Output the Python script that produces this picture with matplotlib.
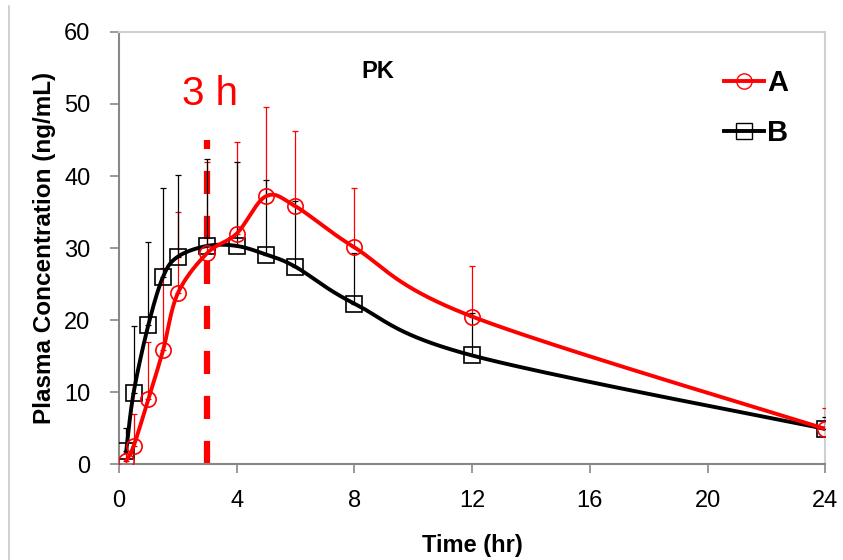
import numpy as np
import matplotlib.pyplot as plt
from matplotlib.lines import Line2D

# sampling times (hr)
time = [0.25, 0.5, 1, 1.5, 2, 3, 4, 5, 6, 8, 12, 24]

# formulation A (red)
conc_a = [0.5, 2.5, 9.0, 15.8, 23.7, 29.3, 32.0, 37.2, 35.8, 30.1, 20.5, 4.9]
sd_a = [1.0, 4.5, 8.0, 11.5, 11.3, 12.6, 12.7, 12.4, 10.4, 8.2, 7.0, 2.9]

# formulation B (black)
conc_b = [1.8, 9.9, 19.3, 26.0, 28.8, 30.3, 30.3, 29.1, 27.4, 22.3, 15.1, 4.9]
sd_b = [3.2, 9.3, 11.5, 12.4, 11.4, 12.0, 11.7, 10.3, 9.1, 7.0, 5.9, 1.6]

XMAX, YMAX = 24, 60


def smooth(x, y, n=40):
    # Catmull-Rom through the points, computed on the normalised axes so it looks like Excel's smoothing
    px = np.asarray(x, float) / XMAX * 1.6
    py = np.asarray(y, float) / YMAX
    P = np.column_stack([px, py])
    P = np.vstack([P[0], P, P[-1]])
    out = []
    for i in range(1, len(P) - 2):
        p0, p1, p2, p3 = P[i - 1], P[i], P[i + 1], P[i + 2]
        t = np.linspace(0, 1, n)[:, None]
        c1 = p1 + (p2 - p0) / 6
        c2 = p2 - (p3 - p1) / 6
        seg = ((1 - t) ** 3) * p1 + 3 * ((1 - t) ** 2) * t * c1 + 3 * (1 - t) * t ** 2 * c2 + t ** 3 * p2
        out.append(seg)
    out = np.vstack(out)
    return out[:, 0] / 1.6 * XMAX, out[:, 1] * YMAX


plt.rcParams['font.family'] = ['Liberation Sans', 'DejaVu Sans']

fig = plt.figure(figsize=(8.43, 5.6), dpi=100)
ax = fig.add_axes([0.141, 0.171, 0.838, 0.772])

# vertical 3 h marker
ax.plot([3, 3], [0, 45], color='#ff0000', lw=4.5, ls=(0, (3.7, 3.5)), zorder=2)
ax.text(3.1, 51.4, '3 h', color='#ff0000', fontsize=29, ha='center', va='center')

# error bars (upper only)
ax.errorbar(time, conc_a, yerr=[np.zeros(len(sd_a)), sd_a], fmt='none', ecolor='#ff0000',
            elinewidth=0.9, capsize=2.5, capthick=0.9, zorder=3)
ax.errorbar(time, conc_b, yerr=[np.zeros(len(sd_b)), sd_b], fmt='none', ecolor='black',
            elinewidth=0.9, capsize=2.5, capthick=0.9, zorder=3)

sx, sy = smooth(time, conc_b)
ax.plot(sx, sy, color='black', lw=2.8, zorder=4)
ax.plot(time, conc_b, ls='none', marker='s', ms=11, mfc='none', mec='black', mew=1.2, zorder=5)

sx, sy = smooth(time, conc_a)
ax.plot(sx, sy, color='#ff0000', lw=2.8, zorder=6)
ax.plot(time, conc_a, ls='none', marker='o', ms=11, mfc='none', mec='#ff0000', mew=1.2, zorder=7)

ax.set_xlim(0, XMAX)
ax.set_ylim(0, YMAX)
ax.set_xticks([0, 4, 8, 12, 16, 20, 24])
ax.set_yticks(range(0, 61, 10))
ax.tick_params(axis='both', labelsize=17, color='#888888', length=6.5, width=1.2, direction='out')
ax.tick_params(axis='x', pad=12)
ax.tick_params(axis='y', pad=14)

for side in ['left', 'bottom']:
    ax.spines[side].set_color('#888888')
    ax.spines[side].set_linewidth(1.5)
for side in ['top', 'right']:
    ax.spines[side].set_color('#d0d0d0')
    ax.spines[side].set_linewidth(1.5)

ax.set_xlabel('Time (hr)', fontsize=17, fontweight='bold', labelpad=16)
ax.set_ylabel('Plasma Concentration (ng/mL)', fontsize=17.5, fontweight='bold', labelpad=6)
ax.text(8.8, 54.5, 'PK', fontsize=17, fontweight='bold', ha='center', va='center')

handles = [Line2D([], [], color='#ff0000', lw=2.8, marker='o', ms=11, mfc='none', mec='#ff0000'),
           Line2D([], [], color='black', lw=2.8, marker='s', ms=11, mfc='none', mec='black')]
leg = ax.legend(handles, ['A', 'B'], loc='upper right', bbox_to_anchor=(0.985, 0.975), frameon=False,
                handlelength=1.4, handletextpad=0.1, labelspacing=0.75,
                prop={'size': 21, 'weight': 'bold'})

# thin frame line on the far left of the picture
fig.add_artist(Line2D([0.011, 0.011], [0.0, 0.99], color='#c8c8c8', lw=1.2))

fig.savefig('out.png', dpi=100)
